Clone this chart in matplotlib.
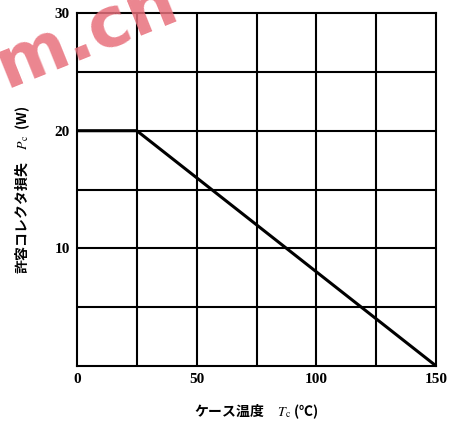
import matplotlib
matplotlib.use("Agg")
import matplotlib.pyplot as plt

plt.rcParams['font.family'] = ['Noto Sans CJK JP', 'DejaVu Sans']
plt.rcParams['mathtext.fontset'] = 'stix'

# derating curve: case temperature vs allowable collector dissipation
case_temp = [0, 25, 150]
power = [20, 20, 0]

xticks = [0, 50, 100, 150]
yticks = [10, 20, 30]
xgrid = [25, 50, 75, 100, 125]
ygrid = [5, 10, 15, 20, 25]

fig = plt.figure(figsize=(4.5, 4.23), dpi=100)
ax = fig.add_axes([0.171, 0.135, 0.798, 0.834])

for gx in xgrid:
    ax.axvline(gx, color='black', lw=1.5, zorder=1)
for gy in ygrid:
    ax.axhline(gy, color='black', lw=1.5, zorder=1)

ax.plot(case_temp, power, color='black', lw=2.2, zorder=3)

ax.set_xlim(0, 150)
ax.set_ylim(0, 30)
for s in ax.spines.values():
    s.set_linewidth(1.5)

ax.set_xticks(xticks)
ax.set_yticks(yticks)
ax.tick_params(length=0, pad=5)
for lab in ax.get_xticklabels() + ax.get_yticklabels():
    lab.set_family(['Liberation Serif'])
    lab.set_fontweight('bold')
    lab.set_fontsize(11)

ax.set_xlabel('ケース温度　$T_{\\mathrm{c}}$ (℃)', fontsize=10,
              fontweight='bold', labelpad=12)
ax.set_ylabel('許容コレクタ損失　$P_{\\mathrm{c}}$  (W)', fontsize=10,
              fontweight='bold', labelpad=16)

# watermark left over from the scanned source
fig.text(-0.03, 0.795, 'm.cn', color='#e8707c', alpha=0.85, fontsize=50,
         fontweight='bold', family=['DejaVu Sans'], rotation=22, zorder=0)

fig.savefig('out.png', dpi=100)
